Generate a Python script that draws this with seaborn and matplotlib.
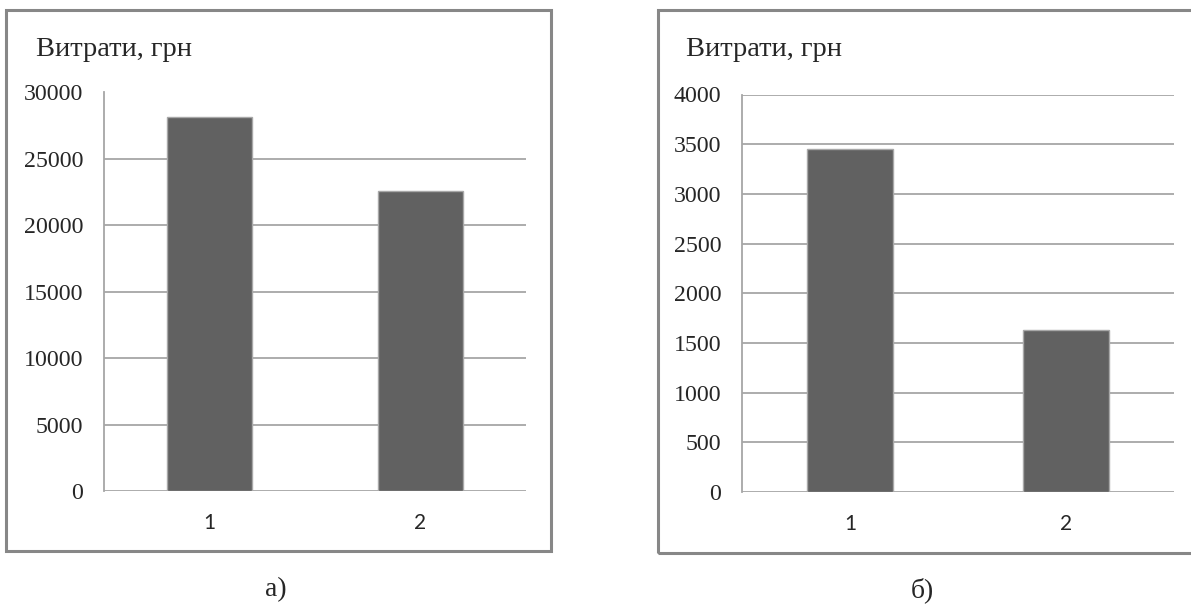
import matplotlib
matplotlib.use("Agg")
import matplotlib.pyplot as plt
from matplotlib.patches import Rectangle
import pandas as pd
import seaborn as sns

# Expenses for two variants, panel а) and panel б)
categories = ["1", "2"]
costs_a = [28150, 22600]
costs_b = [3450, 1630]
ticks_a = [0, 5000, 10000, 15000, 20000, 25000, 30000]
ticks_b = [0, 500, 1000, 1500, 2000, 2500, 3000, 3500, 4000]
title_text = "Витрати, грн"
captions = ["а)", "б)"]

sns.set_style("white")
plt.rcParams["font.family"] = ["Liberation Serif", "DejaVu Serif"]

W, H = 1191, 604
fig = plt.figure(figsize=(W / 100, H / 100), dpi=100)
fig.patch.set_facecolor("white")

BAR = "#616161"
BAR_EDGE = "#a8a8a8"
GRID = "#a6a6a6"
FRAME = "#878787"


def px_rect(x0, y0, x1, y1):
    """Convert pixel box (top-left origin) to figure fraction [l, b, w, h]."""
    return [x0 / W, (H - y1) / H, (x1 - x0) / W, (y1 - y0) / H]


def draw_panel(axbox, frame, values, ticks, title_xy, caption, caption_x):
    # outer chart frame
    l, b, w, h = px_rect(*frame)
    fig.patches.append(Rectangle((l, b), w, h, transform=fig.transFigure,
                                 fill=False, edgecolor=FRAME, linewidth=2.2,
                                 zorder=0))
    ax = fig.add_axes(px_rect(*axbox))
    df = pd.DataFrame({"cat": categories, "value": values})
    sns.barplot(data=df, x="cat", y="value", ax=ax, color=BAR, width=0.4,
                edgecolor=BAR_EDGE, linewidth=1.0, saturation=1, zorder=3)
    ax.set_ylim(ticks[0], ticks[-1])
    ax.set_xlim(-0.5, len(categories) - 0.5)
    ax.set_yticks(ticks)
    ax.set_yticklabels([str(t) for t in ticks], fontsize=17.2,
                       family=["Liberation Serif"])
    ax.set_xticks(range(len(categories)))
    ax.set_xticklabels(categories, fontsize=15, family=["Lato", "DejaVu Sans"])
    ax.set_xlabel("")
    ax.set_ylabel("")
    ax.yaxis.grid(True, color=GRID, linewidth=1.3, zorder=0)
    ax.set_axisbelow(True)
    for side in ("top", "right", "bottom"):
        ax.spines[side].set_visible(False)
    ax.spines["left"].set_color(GRID)
    ax.spines["left"].set_linewidth(1.3)
    ax.tick_params(axis="y", length=7, width=1.3, color=GRID, pad=8)
    ax.tick_params(axis="x", length=0, pad=16)
    ax.set_facecolor("none")
    fig.text(title_xy[0] / W, 1 - title_xy[1] / H, title_text, fontsize=20.5,
             ha="left", va="center", family=["Liberation Serif"])
    fig.text(caption_x / W, 1 - 590 / H, caption, fontsize=20, ha="center",
             va="center", family=["Liberation Serif"])
    return ax


draw_panel((104, 92.5, 526, 491), (6, 10, 551, 551), costs_a, ticks_a,
           (36, 50), captions[0], 276)
draw_panel((742, 94.5, 1174, 492), (658, 10, 1200, 553), costs_b, ticks_b,
           (686, 50), captions[1], 922)

fig.savefig("out.png", dpi=100, facecolor="white")
